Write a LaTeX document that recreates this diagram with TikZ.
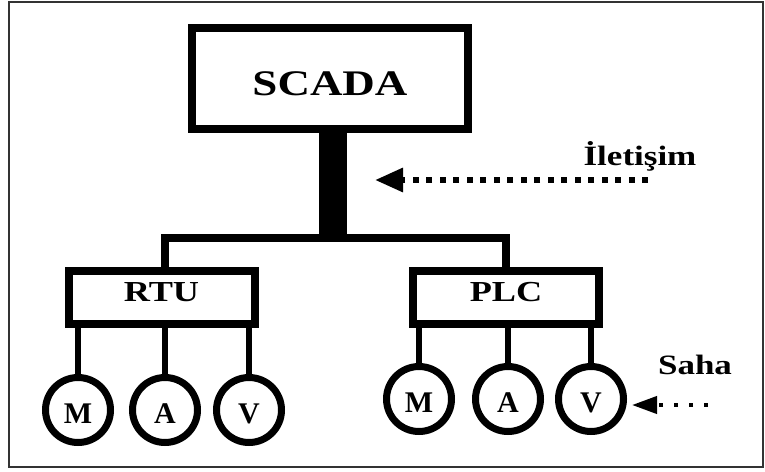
\documentclass[tikz,border=0pt]{standalone}
\usepackage{fontspec}
\setmainfont{Liberation Serif}[FakeStretch=1.25]
\newfontfamily\letterfont{Liberation Serif}
\usetikzlibrary{arrows.meta}

\tikzset{
  box/.style={draw, rectangle, line width=8pt, inner sep=0pt,
    font=\bfseries\fontsize{29}{31}\selectfont, text height=19pt, text depth=12pt},
  dev/.style={draw, circle, line width=7pt, minimum size=65pt, inner sep=0pt,
    font=\letterfont\bfseries\fontsize{30}{32}\selectfont, text height=27pt, text depth=0pt},
  wire/.style={line width=6.5pt},
  bus/.style={line width=8pt, line join=miter},
  tag/.style={font=\bfseries\fontsize{28}{30}\selectfont, inner sep=0pt, anchor=base},
}

\begin{document}
\begin{tikzpicture}[x=1pt, y=-1pt]
  \useasboundingbox (0,0) rectangle (765,471);
  \fill[white] (0,0) rectangle (765,471);
  % outer frame
  \draw[line width=1.5pt, black!80] (9,2) rectangle (763,467);

  % control level
  \node[box, minimum width=276pt, minimum height=101pt,
        font=\bfseries\fontsize{36}{40}\selectfont, text height=34pt, text depth=0pt]
        (scada) at (330,78.5) {SCADA};

  % field controllers
  \node[box, minimum width=186pt, minimum height=53pt] (rtu) at (161.5,297.5) {RTU};
  \node[box, minimum width=186pt, minimum height=53pt] (plc) at (506,297.5) {PLC};

  % field devices
  \node[dev] (rm) at (78,410)  {M};
  \node[dev] (ra) at (165,410) {A};
  \node[dev] (rv) at (249,410) {V};
  \node[dev] (pm) at (419,399) {M};
  \node[dev] (pa) at (508,399) {A};
  \node[dev] (pv) at (591,399) {V};

  % communication trunk and bus
  \coordinate (bus) at (333,238);
  \draw[line width=28pt] (scada.south -| bus) -- (bus);
  \draw[bus] ([xshift=3.5pt]rtu.north) |- (bus) -| (plc.north);

  % device drops
  \foreach \d in {rm,ra,rv}
    \draw[wire] (rtu.south -| \d.north) -- (\d.north);
  \foreach \d in {pm,pa,pv}
    \draw[wire] (plc.south -| \d.north) -- (\d.north);

  % labels and pointers
  \node[tag] (ilt) at (640,165) {İletişim};
  \coordinate (iltail) at (648,180);
  \coordinate (iltip) at (375,180);
  \draw[line width=6pt, dash pattern=on 6pt off 7.5pt,
        -{Triangle[length=28pt,width=23pt]}] (iltail) -- (iltip);

  \node[tag] (saha) at (695,374) {Saha};
  \coordinate (sahatail) at (708,405);
  \draw[line width=4pt, dash pattern=on 4pt off 11pt,
        -{Triangle[length=25pt,width=17pt]}] (sahatail) -- ([xshift=5pt,yshift=-6pt]pv.east);
\end{tikzpicture}
\end{document}
